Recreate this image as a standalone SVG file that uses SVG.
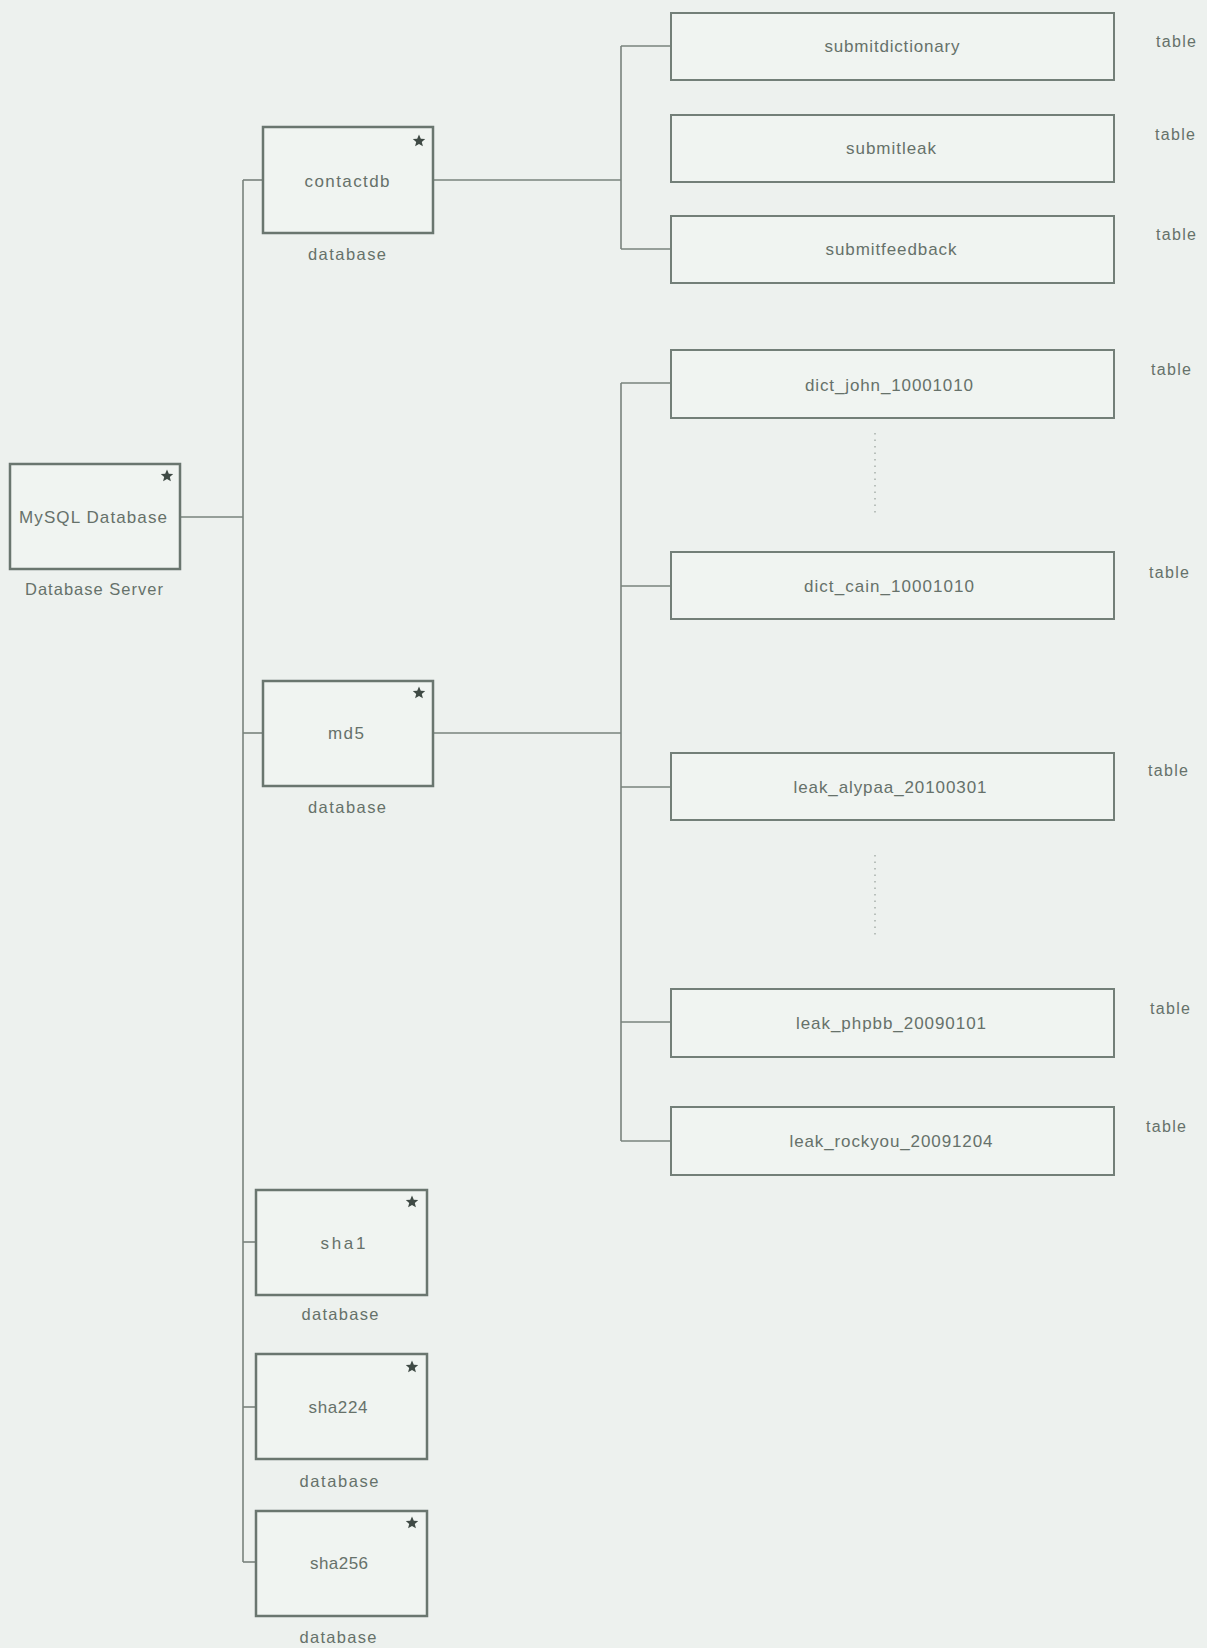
<svg xmlns="http://www.w3.org/2000/svg" xmlns:xlink="http://www.w3.org/1999/xlink" width="1207" height="1648" viewBox="0 0 1207 1648">
  <style>
    .bg { fill: #edf1ee; }
    .db { fill: #f0f4f1; stroke: #6a766f; stroke-width: 2.5; }
    .tb { fill: #f0f4f1; stroke: #737f78; stroke-width: 2; }
    .wire { fill: none; stroke: #78837c; stroke-width: 1.6; }
    .dots { fill: none; stroke: #a7b0aa; stroke-width: 1.5; stroke-dasharray: 1.5 5; }
    text { font-family: "Liberation Sans", Arial, sans-serif; fill: #66716a; }
    .name { font-size: 17px; text-anchor: middle; }
    .kind { font-size: 16.5px; text-anchor: middle; }
    .tag { font-size: 16px; text-anchor: middle; }
    .star { fill: #3f4a45; }
  </style>
  <defs>
    <path id="star" class="star" d="M0,-6.5 L1.8,-2.3 L6.2,-2 L2.8,0.9 L3.9,5.3 L0,2.9 L-3.9,5.3 L-2.8,0.9 L-6.2,-2 L-1.8,-2.3 Z"/>
  </defs>

  <rect class="bg" x="0" y="0" width="1207" height="1648"/>

  <!-- tree connectors -->
  <g id="connectors">
    <!-- server to databases -->
    <line class="wire" x1="180" y1="517" x2="243" y2="517"/>
    <line class="wire" x1="243" y1="180" x2="243" y2="1562"/>
    <line class="wire" x1="243" y1="180" x2="263" y2="180"/>
    <line class="wire" x1="243" y1="733" x2="263" y2="733"/>
    <line class="wire" x1="243" y1="1242" x2="256" y2="1242"/>
    <line class="wire" x1="243" y1="1407" x2="256" y2="1407"/>
    <line class="wire" x1="243" y1="1562" x2="256" y2="1562"/>
    <!-- contactdb tables -->
    <line class="wire" x1="433" y1="180" x2="621" y2="180"/>
    <line class="wire" x1="621" y1="46" x2="621" y2="249"/>
    <line class="wire" x1="621" y1="46" x2="671" y2="46"/>
    <line class="wire" x1="621" y1="249" x2="671" y2="249"/>
    <!-- md5 tables -->
    <line class="wire" x1="433" y1="733" x2="621" y2="733"/>
    <line class="wire" x1="621" y1="383" x2="621" y2="1141"/>
    <line class="wire" x1="621" y1="383" x2="671" y2="383"/>
    <line class="wire" x1="621" y1="586" x2="671" y2="586"/>
    <line class="wire" x1="621" y1="787" x2="671" y2="787"/>
    <line class="wire" x1="621" y1="1022" x2="671" y2="1022"/>
    <line class="wire" x1="621" y1="1141" x2="671" y2="1141"/>
    <!-- elided tables -->
    <line class="dots" x1="875" y1="433" x2="875" y2="515"/>
    <line class="dots" x1="875" y1="855" x2="875" y2="936"/>
  </g>

  <!-- server -->
  <g id="mysql-server">
    <rect class="db" x="10" y="464" width="170" height="105"/>
    <use xlink:href="#star" x="167" y="476"/>
    <text class="name" x="93" y="523" textLength="148" lengthAdjust="spacing">MySQL Database</text>
    <text class="kind" x="94" y="595" textLength="138" lengthAdjust="spacing">Database Server</text>
  </g>

  <!-- databases -->
  <g id="db-contactdb">
    <rect class="db" x="263" y="127" width="170" height="106"/>
    <use xlink:href="#star" x="419" y="141"/>
    <text class="name" x="347" y="187" textLength="85" lengthAdjust="spacing">contactdb</text>
    <text class="kind" x="347" y="260" textLength="78" lengthAdjust="spacing">database</text>
  </g>
  <g id="db-md5">
    <rect class="db" x="263" y="681" width="170" height="105"/>
    <use xlink:href="#star" x="419" y="693"/>
    <text class="name" x="346" y="739" textLength="36" lengthAdjust="spacing">md5</text>
    <text class="kind" x="347" y="813" textLength="78" lengthAdjust="spacing">database</text>
  </g>
  <g id="db-sha1">
    <rect class="db" x="256" y="1190" width="171" height="105"/>
    <use xlink:href="#star" x="412" y="1202"/>
    <text class="name" x="343" y="1249" textLength="45" lengthAdjust="spacing">sha1</text>
    <text class="kind" x="340" y="1320" textLength="77" lengthAdjust="spacing">database</text>
  </g>
  <g id="db-sha224">
    <rect class="db" x="256" y="1354" width="171" height="105"/>
    <use xlink:href="#star" x="412" y="1367"/>
    <text class="name" x="338" y="1413" textLength="59" lengthAdjust="spacing">sha224</text>
    <text class="kind" x="339" y="1487" textLength="79" lengthAdjust="spacing">database</text>
  </g>
  <g id="db-sha256">
    <rect class="db" x="256" y="1511" width="171" height="105"/>
    <use xlink:href="#star" x="412" y="1523"/>
    <text class="name" x="339" y="1569" textLength="58" lengthAdjust="spacing">sha256</text>
    <text class="kind" x="338" y="1643" textLength="77" lengthAdjust="spacing">database</text>
  </g>

  <!-- tables -->
  <g id="tbl-submitdictionary">
    <rect class="tb" x="671" y="13" width="443" height="67"/>
    <text class="name" x="892" y="52" textLength="135" lengthAdjust="spacing">submitdictionary</text>
    <text class="tag" x="1176" y="47" textLength="40" lengthAdjust="spacing">table</text>
  </g>
  <g id="tbl-submitleak">
    <rect class="tb" x="671" y="115" width="443" height="67"/>
    <text class="name" x="891" y="154" textLength="90" lengthAdjust="spacing">submitleak</text>
    <text class="tag" x="1175" y="140" textLength="40" lengthAdjust="spacing">table</text>
  </g>
  <g id="tbl-submitfeedback">
    <rect class="tb" x="671" y="216" width="443" height="67"/>
    <text class="name" x="891" y="255" textLength="131" lengthAdjust="spacing">submitfeedback</text>
    <text class="tag" x="1176" y="240" textLength="40" lengthAdjust="spacing">table</text>
  </g>
  <g id="tbl-dict-john">
    <rect class="tb" x="671" y="350" width="443" height="68"/>
    <text class="name" x="889" y="391" textLength="168" lengthAdjust="spacing">dict_john_10001010</text>
    <text class="tag" x="1171" y="375" textLength="40" lengthAdjust="spacing">table</text>
  </g>
  <g id="tbl-dict-cain">
    <rect class="tb" x="671" y="552" width="443" height="67"/>
    <text class="name" x="889" y="592" textLength="170" lengthAdjust="spacing">dict_cain_10001010</text>
    <text class="tag" x="1169" y="578" textLength="40" lengthAdjust="spacing">table</text>
  </g>
  <g id="tbl-leak-alypaa">
    <rect class="tb" x="671" y="753" width="443" height="67"/>
    <text class="name" x="890" y="793" textLength="193" lengthAdjust="spacing">leak_alypaa_20100301</text>
    <text class="tag" x="1168" y="776" textLength="40" lengthAdjust="spacing">table</text>
  </g>
  <g id="tbl-leak-phpbb">
    <rect class="tb" x="671" y="989" width="443" height="68"/>
    <text class="name" x="891" y="1029" textLength="190" lengthAdjust="spacing">leak_phpbb_20090101</text>
    <text class="tag" x="1170" y="1014" textLength="40" lengthAdjust="spacing">table</text>
  </g>
  <g id="tbl-leak-rockyou">
    <rect class="tb" x="671" y="1107" width="443" height="68"/>
    <text class="name" x="891" y="1147" textLength="203" lengthAdjust="spacing">leak_rockyou_20091204</text>
    <text class="tag" x="1166" y="1132" textLength="40" lengthAdjust="spacing">table</text>
  </g>
</svg>
